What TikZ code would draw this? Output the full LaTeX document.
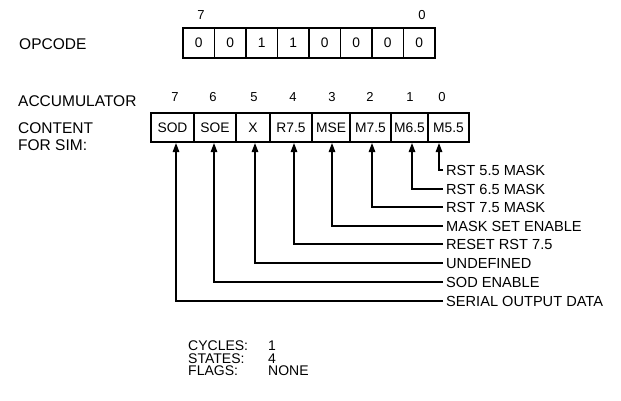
\documentclass[tikz,border=0pt]{standalone}
\usepackage{fontspec}
\setmainfont{Liberation Sans}
\usetikzlibrary{arrows.meta}
\begin{document}
\begin{tikzpicture}[x=1pt,y=-1pt,
  txt/.style={anchor=west, inner sep=0pt, text height=11pt, text depth=0pt, font=\fontsize{15.5}{17}\selectfont},
  info/.style={anchor=west, inner sep=0pt, text height=9.8pt, text depth=0pt, font=\fontsize{14}{16}\selectfont},
  num/.style={inner sep=0pt, font=\fontsize{13}{14}\selectfont},
  cell/.style={draw, line width=1.6pt, inner sep=0pt, font=\fontsize{13.8}{15}\selectfont},
  lbl/.style={anchor=west, inner xsep=3pt, inner ysep=0pt, text height=10.5pt, text depth=0pt, font=\fontsize{14.6}{16}\selectfont},
  conn/.style={line width=1.3pt, -{Triangle[length=9pt,width=6.5pt]}}]
\useasboundingbox (0,0) rectangle (621,400);
% left labels
\node[txt] (opc) at (19,43.5) {OPCODE};
\node[txt] (accl) at (18,101) {ACCUMULATOR};
\node[txt] (cont) at (18,127.5) {CONTENT};
\node[txt] (fsim) at (18,145) {FOR SIM:};
% opcode register
\foreach \i/\v [count=\k from 0] in {7/0,6/0,5/1,4/1,3/0,2/0,1/0,0/0}
  \node[cell, minimum width=31.5pt, minimum height=30pt] (o\i) at ({198.75+31.5*\k},43) {\v};
\node[num] (ob7) at (201,15) {7};
\node[num] (ob0) at (422,15) {0};
% accumulator register
\foreach \i/\c/\w/\t in {7/172.5/43/SOD,6/215/42/SOE,5/253/34/X,4/291/42/R7.5,3/331/38/MSE,2/370.5/41/M7.5,1/409.5/37/M6.5,0/448.5/41/M5.5}
  \node[cell, minimum width=\w pt, minimum height=29pt] (a\i) at (\c,127.5) {\t};
\foreach \i/\x in {7/175,6/213,5/254,4/293,3/332,2/370,1/410,0/442}
  \node[num] (ab\i) at (\x,97) {\i};
% arrow end points on the register bottom
\foreach \i/\x in {0/439,1/412,2/372,3/332,4/294,5/255,6/214,7/176}
  \coordinate (p\i) at (\x,143);
% labels
\foreach \i/\y/\t in {0/170/RST 5.5 MASK,1/189/RST 6.5 MASK,2/207/RST 7.5 MASK,3/226/MASK SET ENABLE,4/244/RESET RST 7.5,5/263/UNDEFINED,6/282/SOD ENABLE,7/301/SERIAL OUTPUT DATA}
  \node[lbl] (l\i) at (443,\y) {\t};
\foreach \i in {0,...,7}
  \draw[conn] (l\i.west) -| (p\i);
% bottom info
\node[info] (cyc) at (188,346) {CYCLES:};
\node[info] (cycv) at (268,346) {1};
\node[info] (sta) at (188,358.5) {STATES:};
\node[info] (stav) at (268,358.5) {4};
\node[info] (flg) at (188,371) {FLAGS:};
\node[info] (flgv) at (268,371) {NONE};
\end{tikzpicture}
\end{document}
